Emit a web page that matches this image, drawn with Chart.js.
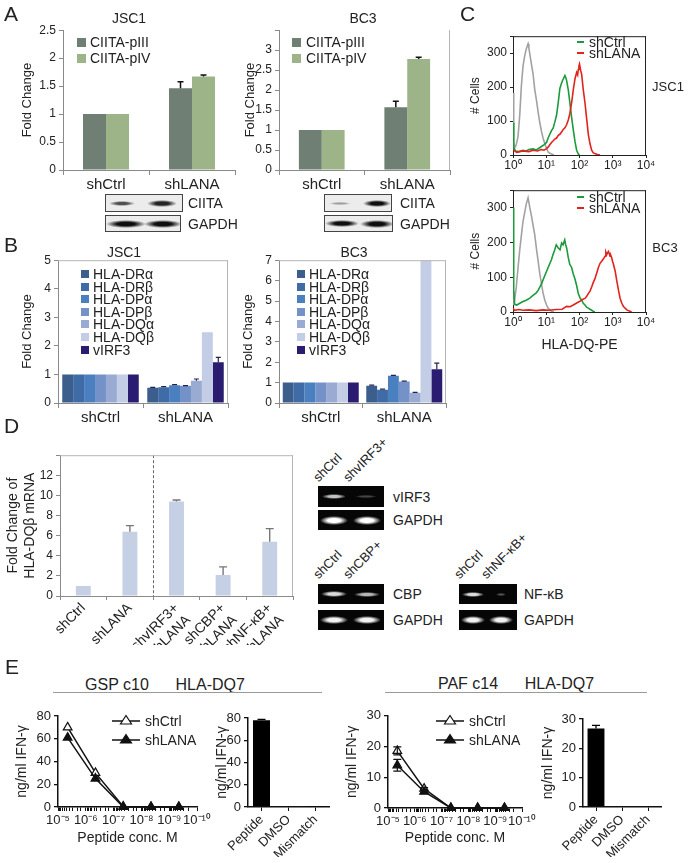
<!DOCTYPE html>
<html>
<head>
<meta charset="utf-8">
<script src="https://cdn.jsdelivr.net/npm/chart.js@4.4.1/dist/chart.umd.min.js"></script>
<style>
  body { margin: 0; background: #fff; }
  #fig { position: relative; width: 692px; height: 863px; overflow: hidden; background: #fff;
         font-family: 'Liberation Sans', Arial, Helvetica, sans-serif; color: #222; }
  #fig canvas { position: absolute; }
  .t { position: absolute; white-space: pre; line-height: 1; }
  .wb { position: absolute; background: #ececec; border: 1px solid #444; box-sizing: border-box; overflow: hidden; }
  .gel { position: absolute; background: #060606; overflow: hidden; }
  .band { position: absolute; }
  .hr { position: absolute; height: 0; border-top: 1px solid #9a9a9a; }
</style>
</head>
<body>
<div id="fig"></div>
<script>
// ---- data ----
// A: CIITA promoter fold change
var aCats = ['shCtrl', 'shLANA'];
var aSeries = ['CIITA-pIII', 'CIITA-pIV'];
var aJscPIII = [1, 1.46], aJscPIIIErr = [0, 0.12];
var aJscPIV = [1, 1.67], aJscPIVErr = [0, 0.03];
var aBc3PIII = [1, 1.57], aBc3PIIIErr = [0, 0.15];
var aBc3PIV = [1, 2.78], aBc3PIVErr = [0, 0.04];

// B: HLA class II / vIRF3 fold change
var bGenes = ['HLA-DRα', 'HLA-DRβ', 'HLA-DPα', 'HLA-DPβ', 'HLA-DQα', 'HLA-DQβ', 'vIRF3'];
var bJscCtrl = [1, 1, 1, 1, 1, 1, 1];
var bJscLana = [0.53, 0.55, 0.62, 0.6, 0.78, 2.48, 1.43];
var bJscErr = [0.02, 0.02, 0.02, 0.01, 0.06, 0, 0.17];
var bBc3Ctrl = [1, 1, 1, 1, 1, 1, 1];
var bBc3Lana = [0.85, 0.65, 1.33, 1.05, 0.5, 7, 1.65];
var bBc3Err = [0.03, 0.03, 0.02, 0.02, 0.02, 0, 0.3];

// C: flow histograms (HLA-DQ-PE vs # cells)
var cJscIsoX = [1, 1.05, 1.12, 1.25, 1.42, 1.6, 1.79, 2.0, 2.25, 2.5, 2.7, 2.84, 3.0, 3.2, 3.58, 4.0, 4.52, 5.1, 5.7, 6.4, 7.18, 8.0, 9.06, 10.2, 11.4, 12.8, 14.4, 17];
var cJscIsoY = [183, 40, 20, 30, 55, 120, 205, 262, 292, 312, 322, 328, 316, 298, 268, 240, 192, 160, 126, 95, 70, 50, 33, 20, 9, 5, 3, 0];
var cJscCtrlX = [1, 1.05, 1.2, 1.5, 2, 2.5, 3, 4, 5, 6, 7.2, 8.5, 10.2, 11.4, 12.8, 14.4, 16.2, 18, 20.4, 22.9, 25.7, 28.9, 32.4, 36.4, 38.5, 40.9, 46, 52, 58, 65, 73, 82, 92, 100];
var cJscCtrlY = [95, 20, 12, 10, 14, 12, 16, 18, 15, 20, 25, 30, 37, 50, 61, 72, 80, 96, 117, 154, 196, 212, 224, 234, 228, 220, 192, 150, 110, 75, 40, 14, 3, 0];
var cJscLanaX = [1, 1.3, 2, 3, 4, 5.5, 7, 8.5, 10, 11.4, 12.8, 14.4, 16.2, 18, 20.4, 23, 25.7, 28.9, 32.4, 36.4, 40.9, 46, 51, 58, 65, 73, 82, 88, 92, 96, 100, 108, 116, 130, 146, 164, 184, 207, 232, 260, 330, 415];
var cJscLanaY = [15, 8, 12, 10, 14, 12, 16, 14, 18, 23, 30, 37, 42, 47, 50, 58, 61, 68, 75, 80, 89, 103, 121, 154, 192, 224, 243, 236, 252, 262, 268, 250, 238, 192, 154, 107, 61, 33, 14, 6, 2, 0];
var cBc3IsoX = [1, 1.05, 1.12, 1.25, 1.42, 1.6, 1.79, 2.0, 2.25, 2.5, 2.84, 3.2, 3.58, 4.0, 4.52, 5.1, 5.7, 6.4, 7.18, 8.0, 9.06, 10.2, 11.4, 12.8, 14.4, 17];
var cBc3IsoY = [60, 20, 34, 70, 128, 180, 221, 260, 286, 310, 328, 300, 277, 250, 221, 180, 146, 110, 81, 55, 34, 20, 11, 6, 2, 0];
var cBc3CtrlX = [1, 1.05, 1.12, 1.3, 1.6, 2, 2.5, 3.2, 4, 5, 5.7, 7.2, 9, 11.4, 14.4, 16, 18, 20, 23, 26, 29, 32, 36, 38, 41, 46, 51, 58, 65, 73, 82, 92, 104, 116, 130, 146, 164, 184, 207, 232, 260, 290];
var cBc3CtrlY = [300, 60, 22, 20, 25, 30, 34, 40, 48, 55, 62, 81, 104, 128, 151, 165, 179, 193, 184, 179, 198, 193, 207, 195, 184, 156, 137, 128, 109, 95, 76, 53, 40, 34, 25, 20, 14, 11, 8, 5, 2, 0];
var cBc3LanaX = [1, 1.1, 1.5, 2, 3, 5, 8, 12, 20, 30, 41, 52, 65, 82, 100, 123, 146, 165, 184, 207, 232, 260, 290, 330, 370, 415, 464, 520, 585, 620, 660, 700, 740, 785, 830, 880, 930, 990, 1050, 1180, 1320, 1490, 1670, 1870, 2100, 2650, 3700];
var cBc3LanaY = [11, 5, 7, 5, 6, 4, 6, 5, 7, 8, 16, 15, 20, 26, 30, 36, 39, 45, 53, 60, 72, 85, 95, 112, 128, 140, 146, 152, 160, 172, 165, 170, 174, 168, 160, 162, 156, 145, 137, 118, 90, 62, 39, 25, 16, 6, 0];

// D: HLA-DQβ mRNA
var dCats = ['shCtrl', 'shLANA', ['shvIRF3+', 'shLANA'], ['shCBP+', 'shLANA'], ['shNF-κB+', 'shLANA']];
var dVals = [1, 6.4, 9.4, 2.1, 5.4];
var dErr = [0, 0.6, 0.15, 0.8, 1.3];

// E: IFN-γ release
var eConc = [4.5e-6, 4.5e-7, 4.5e-8, 4.5e-9, 4.5e-10];
var eGspCtrl = [70, 30, 0.5, 0, 0];
var eGspLana = [61, 25, 0, 0, 0];
var ePafCtrl = [18.6, 6.3, 0, 0, 0], ePafCtrlErr = [1.3, 0.3, 0, 0, 0];
var ePafLana = [13.9, 5.3, 0, 0, 0], ePafLanaErr = [1.9, 0.4, 0, 0, 0];
var eCtlCats = ['Peptide', 'DMSO', 'Mismatch'];
var eGspCtl = [78, 0, 0.3], eGspCtlErr = [0.7, 0, 0];
var ePafCtl = [26.8, 0, 0], ePafCtlErr = [1, 0, 0];

// ---- plugins ----
var errorBars = {
  id: 'errBars',
  afterDatasetsDraw: function (chart) {
    var ctx = chart.ctx, ys = chart.scales.y;
    chart.data.datasets.forEach(function (ds, di) {
      if (!ds.errUp) return;
      var meta = chart.getDatasetMeta(di);
      ctx.save();
      ctx.strokeStyle = ds.errColor || '#000';
      ctx.lineWidth = ds.errWidth || 1.2;
      meta.data.forEach(function (el, i) {
        var d = ds.data[i];
        var v = (d && typeof d === 'object') ? d.y : d;
        var up = ds.errUp[i] || 0, dn = ds.errDown ? (ds.errDown[i] || 0) : 0;
        if (!up && !dn) return;
        var hw = (ds.errCap || 6) / 2;
        var y0 = ys.getPixelForValue(v - dn), y1 = ys.getPixelForValue(v + up);
        ctx.beginPath();
        ctx.moveTo(el.x, y0); ctx.lineTo(el.x, y1);
        ctx.moveTo(el.x - hw, y1); ctx.lineTo(el.x + hw, y1);
        if (dn) { ctx.moveTo(el.x - hw, y0); ctx.lineTo(el.x + hw, y0); }
        ctx.stroke();
      });
      ctx.restore();
    });
  }
};

var plotBox = {
  id: 'plotBox',
  afterDraw: function (chart, args, opts) {
    if (!opts || !opts.color) return;
    var a = chart.chartArea, ctx = chart.ctx, s = opts.sides || 'tr';
    ctx.save();
    ctx.strokeStyle = opts.color;
    ctx.lineWidth = 1;
    ctx.beginPath();
    if (s.indexOf('t') >= 0) { ctx.moveTo(a.left, a.top + 0.5); ctx.lineTo(a.right, a.top + 0.5); }
    if (s.indexOf('r') >= 0) { ctx.moveTo(a.right - 0.5, a.top); ctx.lineTo(a.right - 0.5, a.bottom); }
    ctx.stroke();
    ctx.restore();
  }
};

var divider = {
  id: 'divider',
  afterDatasetsDraw: function (chart, args, opts) {
    if (!opts || opts.at == null) return;
    var x = Math.round(chart.scales.x.getPixelForValue(opts.at)) + 0.5, a = chart.chartArea, ctx = chart.ctx;
    ctx.save();
    ctx.strokeStyle = '#666';
    ctx.setLineDash([3, 2]);
    ctx.beginPath(); ctx.moveTo(x, a.top); ctx.lineTo(x, a.bottom); ctx.stroke();
    ctx.restore();
  }
};

Chart.defaults.font.family = "'Liberation Sans', Arial, Helvetica, sans-serif";
Chart.defaults.font.size = 12;
Chart.defaults.color = '#222';
Chart.defaults.animation = false;
Chart.defaults.plugins.legend.display = false;
Chart.defaults.plugins.tooltip.enabled = false;
Chart.register(errorBars, plotBox, divider);

var fig = document.getElementById('fig');
var GRAY = '#8a8a8a';
var SUP = { '0': '⁰', '1': '¹', '2': '²', '3': '³', '4': '⁴', '5': '⁵', '6': '⁶', '7': '⁷', '8': '⁸', '9': '⁹', '-': '⁻' };

function pow10Label(v) {
  var e = Math.log10(v), r = Math.round(e);
  if (Math.abs(e - r) > 1e-6) return '';
  return '10' + String(r).split('').map(function (c) { return SUP[c]; }).join('');
}

// canvas at box, chart area pinned to plot (page px)
function mount(box, plot, config) {
  var c = document.createElement('canvas');
  c.width = box.w; c.height = box.h;
  c.style.left = box.x + 'px'; c.style.top = box.y + 'px';
  c.style.width = box.w + 'px'; c.style.height = box.h + 'px';
  fig.appendChild(c);
  var yw = plot.l - box.x, xh = box.y + box.h - plot.b;
  var o = config.options;
  o.responsive = false;
  o.layout = { autoPadding: false, padding: { left: 0, top: plot.t - box.y, right: box.x + box.w - plot.r, bottom: 0 } };
  o.scales.x.afterFit = function (s) { s.height = xh; };
  o.scales.y.afterFit = function (s) { s.width = yw; };
  return new Chart(c, config);
}

function yTitle(text, size, cx, boxX) {
  return { display: true, text: text, color: '#222', font: { size: size }, padding: { top: cx - boxX - size * 0.6, bottom: 0 } };
}
function xTitle(text, size, cy, boxBottom) {
  return { display: true, text: text, color: '#222', font: { size: size }, padding: { top: 0, bottom: boxBottom - cy - size * 0.6 } };
}

function label(text, x, y, size, align, extra) {
  var d = document.createElement('div');
  d.className = 't';
  d.textContent = text;
  d.style.fontSize = size + 'px';
  d.style.left = x + 'px';
  d.style.top = y + 'px';
  var tx = align === 'c' ? '-50%' : align === 'r' ? '-100%' : '0';
  d.style.transform = 'translate(' + tx + ',-50%)';
  if (extra) Object.assign(d.style, extra);
  fig.appendChild(d);
  return d;
}
function slanted(text, x, y, size) {
  var d = document.createElement('div');
  d.className = 't';
  d.textContent = text;
  d.style.fontSize = size + 'px';
  d.style.left = x + 'px';
  d.style.top = (y - size) + 'px';
  d.style.transformOrigin = '0 100%';
  d.style.transform = 'rotate(-45deg)';
  fig.appendChild(d);
}
function swatch(x, y, size, color) {
  var d = document.createElement('div');
  d.style.cssText = 'position:absolute;left:' + x + 'px;top:' + (y - size / 2) + 'px;width:' + size + 'px;height:' + size + 'px;background:' + color;
  fig.appendChild(d);
}
function dash(x, y, w, color) {
  var d = document.createElement('div');
  d.style.cssText = 'position:absolute;left:' + x + 'px;top:' + (y - 1) + 'px;width:' + w + 'px;height:2px;background:' + color;
  fig.appendChild(d);
}
function blot(x, y, w, h, bands, gel) {
  var d = document.createElement('div');
  d.className = gel ? 'gel' : 'wb';
  d.style.left = x + 'px'; d.style.top = y + 'px';
  d.style.width = w + 'px'; d.style.height = h + 'px';
  bands.forEach(function (b) {
    var s = document.createElement('div');
    s.className = 'band';
    var rgb = gel ? '255,255,255' : '15,15,15';
    s.style.left = (b[0] - b[1] / 2) + 'px';
    s.style.top = ((gel ? h : h - 2) - b[2]) / 2 + 'px';
    s.style.width = b[1] + 'px';
    s.style.height = b[2] + 'px';
    s.style.background = 'radial-gradient(ellipse closest-side, rgba(' + rgb + ',' + b[3] + ') 45%, rgba(' + rgb + ',0) 100%)';
    d.appendChild(s);
  });
  fig.appendChild(d);
}

// ---- Excel-style bar axes ----
function xlsX() {
  return { type: 'category', offset: true,
    grid: { display: true, drawOnChartArea: false, drawTicks: true, tickLength: 5, color: GRAY, offset: true },
    border: { color: GRAY },
    ticks: { font: { size: 15 }, padding: 1, maxRotation: 0, autoSkip: false } };
}
function xlsY(max, step, hideTop, title) {
  return { min: 0, max: max,
    grid: { drawOnChartArea: false, tickLength: 4, color: GRAY },
    border: { color: GRAY },
    ticks: { stepSize: step, padding: 3, font: { size: 12 },
      callback: function (v) { return (hideTop && v === max) ? '' : String(v); } },
    title: title };
}

// ---- Panel A ----
var aColors = ['#6f7f73', '#9db388'];
function aData(p3, p3e, p4, p4e) {
  return { labels: aCats, datasets: [
    { label: aSeries[0], data: p3, backgroundColor: aColors[0], errUp: p3e, errColor: '#111', errCap: 6, errWidth: 1.5 },
    { label: aSeries[1], data: p4, backgroundColor: aColors[1], errUp: p4e, errColor: '#111', errCap: 6, errWidth: 1.5 }
  ] };
}
mount({ x: 0, y: 20, w: 240, h: 180 }, { l: 63, t: 27, r: 235, b: 170 }, {
  type: 'bar',
  data: aData(aJscPIII, aJscPIIIErr, aJscPIV, aJscPIVErr),
  options: { datasets: { bar: { categoryPercentage: 0.535, barPercentage: 1 } },
    scales: { x: xlsX(), y: xlsY(2.5, 0.5, false, yTitle('Fold Change', 13, 27, 0)) } }
});
mount({ x: 232, y: 20, w: 228, h: 180 }, { l: 279, t: 27, r: 450, b: 170 }, {
  type: 'bar',
  data: aData(aBc3PIII, aBc3PIIIErr, aBc3PIV, aBc3PIVErr),
  options: { datasets: { bar: { categoryPercentage: 0.535, barPercentage: 1 } },
    scales: { x: xlsX(), y: xlsY(3.5, 0.5, true, yTitle('Fold Change', 13, 250, 232)) },
    plugins: { plotBox: { color: '#b5b5b5', sides: 'r' } } }
});
label('JSC1', 129, 18, 14, 'c');
label('BC3', 363, 18, 14, 'c');
[[77, 90], [292, 306]].forEach(function (p) {
  swatch(p[0], 42, 9, aColors[0]); label(aSeries[0], p[1], 42, 14);
  swatch(p[0], 58, 9, aColors[1]); label(aSeries[1], p[1], 58, 14);
});
blot(105, 194, 78, 18, [[16, 26, 5, 0.7], [56, 30, 7, 0.9]]);
blot(105, 215, 76, 17, [[20, 40, 8, 1], [57, 38, 8, 1]]);
blot(324, 194, 68, 18, [[15, 22, 3, 0.35], [52, 28, 7, 1]]);
blot(324, 215, 69, 17, [[17, 34, 7, 1], [52, 34, 8, 1]]);
label('CIITA', 188, 203, 14); label('GAPDH', 188, 224, 14);
label('CIITA', 400, 203, 14); label('GAPDH', 400, 224, 14);

// ---- Panel B ----
var bColors = ['#3b5e8c', '#3f6ca6', '#4a7fc0', '#7492c8', '#9aabd3', '#c3cde6', '#2a1c70'];
function bData(ctrl, lana, err) {
  return { labels: aCats, datasets: bGenes.map(function (g, i) {
    return { label: g, data: [ctrl[i], lana[i]], backgroundColor: bColors[i], errUp: [0, err[i]], errColor: '#22224a', errCap: 5, errWidth: 1.2 };
  }) };
}
mount({ x: 0, y: 250, w: 236, h: 180 }, { l: 58, t: 259, r: 228, b: 403 }, {
  type: 'bar',
  data: bData(bJscCtrl, bJscLana, bJscErr),
  options: { datasets: { bar: { categoryPercentage: 0.9, barPercentage: 1 } },
    scales: { x: xlsX(), y: xlsY(5, 1, false, yTitle('Fold Change', 13, 27, 0)) },
    plugins: { plotBox: { color: '#b5b5b5', sides: 'tr' } } }
});
mount({ x: 236, y: 250, w: 216, h: 180 }, { l: 279, t: 260, r: 446, b: 403 }, {
  type: 'bar',
  data: bData(bBc3Ctrl, bBc3Lana, bBc3Err),
  options: { datasets: { bar: { categoryPercentage: 0.91, barPercentage: 1 } },
    scales: { x: xlsX(), y: xlsY(7, 1, false, yTitle('Fold Change', 13, 248, 236)) },
    plugins: { plotBox: { color: '#b5b5b5', sides: 'tr' } } }
});
label('JSC1', 124, 252, 14, 'c');
label('BC3', 354, 252, 14, 'c');
[[81, 93], [297, 309]].forEach(function (p) {
  bGenes.forEach(function (g, i) {
    var y = 274 + i * 12.6;
    swatch(p[0], y, 8, bColors[i]);
    label(g, p[1], y, 14);
  });
});

// ---- Panel C ----
function pts(xs, ys) { return xs.map(function (x, i) { return { x: x, y: ys[i] }; }); }
function flowDs(xs, ys, color, order) {
  return { data: pts(xs, ys), borderColor: color, borderWidth: 1.6, pointRadius: 0, tension: 0, order: order };
}
function flowScales(boxX, xt) {
  return {
    x: { type: 'logarithmic', min: 1, max: 10000,
      afterBuildTicks: function (s) { s.ticks = s.ticks.filter(function (t) { return pow10Label(t.value) !== ''; }); },
      grid: { drawOnChartArea: false, tickLength: 3, color: '#222' }, border: { color: '#222' },
      ticks: { autoSkip: false, maxRotation: 0, padding: 0, font: { size: 12 }, callback: pow10Label },
      title: xt || { display: false } },
    y: { min: 0, max: 350,
      grid: { drawOnChartArea: false, tickLength: 3, color: '#222' }, border: { color: '#222' },
      ticks: { stepSize: 100, padding: 3, font: { size: 12 }, callback: function (v) { return v % 100 === 0 ? String(v) : ''; } },
      title: yTitle('# Cells', 12, 476, boxX) }
  };
}
mount({ x: 466, y: 26, w: 194, h: 146 }, { l: 513, t: 32, r: 646, b: 155 }, {
  type: 'line',
  data: { datasets: [flowDs(cJscIsoX, cJscIsoY, '#a2a2a2', 3), flowDs(cJscCtrlX, cJscCtrlY, '#1c9a3c', 2), flowDs(cJscLanaX, cJscLanaY, '#e2231c', 1)] },
  options: { scales: flowScales(466), plugins: { plotBox: { color: '#222', sides: 'tr' } } }
});
mount({ x: 466, y: 180, w: 194, h: 176 }, { l: 513, t: 187, r: 646, b: 312 }, {
  type: 'line',
  data: { datasets: [flowDs(cBc3IsoX, cBc3IsoY, '#a2a2a2', 3), flowDs(cBc3CtrlX, cBc3CtrlY, '#1c9a3c', 2), flowDs(cBc3LanaX, cBc3LanaY, '#e2231c', 1)] },
  options: { scales: flowScales(466, xTitle('HLA-DQ-PE', 14, 345, 356)), plugins: { plotBox: { color: '#222', sides: 'tr' } } }
});
[[42, 53], [197, 208]].forEach(function (r) {
  dash(577, r[0], 7, '#1c9a3c'); label('shCtrl', 589, r[0], 14);
  dash(577, r[1], 7, '#e2231c'); label('shLANA', 589, r[1], 14);
});
label('JSC1', 668, 86, 13, 'c');
label('BC3', 665, 247, 13, 'c');

// ---- Panel D ----
mount({ x: 0, y: 445, w: 300, h: 200 }, { l: 60, t: 454, r: 293, b: 596 }, {
  type: 'bar',
  data: { labels: dCats, datasets: [{ data: dVals, backgroundColor: '#c6d0e4', errUp: dErr, errColor: '#777', errCap: 8, errWidth: 1.4 }] },
  options: { datasets: { bar: { categoryPercentage: 1, barPercentage: 0.32 } },
    scales: {
      x: { type: 'category', offset: true,
        grid: { drawOnChartArea: false, tickLength: 4, color: GRAY, offset: true }, border: { color: GRAY },
        ticks: { font: { size: 14 }, minRotation: 45, maxRotation: 45, autoSkip: false, padding: 0 } },
      y: xlsY(14, 2, true, yTitle(['Fold Change of', 'HLA-DQβ mRNA'], 14, 13, 0)) },
    plugins: { plotBox: { color: '#b5b5b5', sides: 'tr' }, divider: { at: 1.5 } } }
});
blot(318, 486, 66, 21, [[16, 24, 5, 0.75], [48, 22, 3, 0.25]], true);
blot(318, 510, 66, 20, [[16, 28, 9, 1], [49, 28, 9, 1]], true);
blot(318, 584, 66, 20, [[16, 26, 6, 0.85], [49, 26, 5, 0.7]], true);
blot(318, 610, 66, 20, [[16, 28, 8, 0.95], [49, 28, 8, 0.95]], true);
blot(459, 584, 58, 20, [[14, 22, 5, 0.85], [42, 10, 3, 0.3]], true);
blot(459, 610, 58, 20, [[14, 24, 8, 0.95], [42, 24, 8, 0.95]], true);
slanted('shCtrl', 320, 484, 13); slanted('shvIRF3+', 350, 484, 13);
slanted('shCtrl', 320, 581, 13); slanted('shCBP+', 350, 581, 13);
slanted('shCtrl', 461, 581, 13); slanted('shNF-κB+', 488, 581, 13);
label('vIRF3', 393, 497, 14); label('GAPDH', 393, 520, 14);
label('CBP', 393, 594, 14); label('GAPDH', 393, 620, 14);
label('NF-κB', 524, 594, 14); label('GAPDH', 524, 620, 14);

// ---- Panel E ----
function eLineDs(name, ys, errs, filled, order) {
  return { label: name, data: pts(eConc, ys), borderColor: '#111', borderWidth: 1.5, tension: 0,
    pointStyle: 'triangle', pointRadius: 5, pointBackgroundColor: filled ? '#111' : '#fff',
    pointBorderColor: '#111', pointBorderWidth: 1.2, clip: false, order: order,
    errUp: errs, errDown: errs, errColor: '#111', errCap: 8, errWidth: 1.2 };
}
function eY(max, step, cx, boxX) {
  return { min: 0, max: max,
    grid: { drawOnChartArea: false, tickLength: 4, color: '#111', lineWidth: 1.3 },
    border: { color: '#111', width: 1.5 },
    ticks: { stepSize: step, padding: 3, font: { size: 13 } },
    title: yTitle('ng/ml IFN-γ', 14, cx, boxX) };
}
function eLogX(boxBottom) {
  return { type: 'logarithmic', reverse: true, min: 1e-10, max: 1e-5,
    grid: { drawOnChartArea: false, tickLength: 4, color: '#111' },
    border: { color: '#111', width: 1.5 },
    ticks: { autoSkip: false, maxRotation: 0, padding: 2, font: { size: 13 }, callback: pow10Label },
    title: xTitle('Peptide conc. M', 14, 838, boxBottom) };
}
function eBarX() {
  return { type: 'category', offset: true,
    grid: { drawOnChartArea: false, tickLength: 4, color: '#111', offset: false },
    border: { color: '#111', width: 1.5 },
    ticks: { font: { size: 13 }, minRotation: 45, maxRotation: 45, autoSkip: false, padding: 1 } };
}
mount({ x: 10, y: 705, w: 205, h: 142 }, { l: 58, t: 716, r: 197, b: 807 }, {
  type: 'line',
  data: { datasets: [eLineDs('shCtrl', eGspCtrl, null, false, 2), eLineDs('shLANA', eGspLana, null, true, 1)] },
  options: { scales: { x: eLogX(847), y: eY(80, 20, 22, 10) } }
});
mount({ x: 212, y: 705, w: 125, h: 152 }, { l: 248, t: 718, r: 329, b: 807 }, {
  type: 'bar',
  data: { labels: eCtlCats, datasets: [{ data: eGspCtl, backgroundColor: '#000', errUp: eGspCtlErr, errColor: '#000', errCap: 8, errWidth: 1.3 }] },
  options: { datasets: { bar: { categoryPercentage: 1, barPercentage: 0.63 } },
    scales: { x: eBarX(), y: eY(80, 20, 222, 212) } }
});
mount({ x: 342, y: 705, w: 198, h: 142 }, { l: 388, t: 715, r: 522, b: 808 }, {
  type: 'line',
  data: { datasets: [eLineDs('shCtrl', ePafCtrl, ePafCtrlErr, false, 2), eLineDs('shLANA', ePafLana, ePafLanaErr, true, 1)] },
  options: { scales: { x: eLogX(847), y: eY(30, 10, 352, 342) } }
});
mount({ x: 538, y: 705, w: 130, h: 152 }, { l: 583, t: 719, r: 661, b: 807 }, {
  type: 'bar',
  data: { labels: eCtlCats, datasets: [{ data: ePafCtl, backgroundColor: '#000', errUp: ePafCtlErr, errColor: '#000', errCap: 8, errWidth: 1.3 }] },
  options: { datasets: { bar: { categoryPercentage: 1, barPercentage: 0.65 } },
    scales: { x: eBarX(), y: eY(30, 10, 548, 538) } }
});
label('GSP c10      HLA-DQ7', 165, 685, 16, 'c');
label('PAF c14      HLA-DQ7', 516, 684, 16, 'c');
[[53, 269], [385, 262]].forEach(function (l) {
  var d = document.createElement('div');
  d.className = 'hr';
  d.style.left = l[0] + 'px'; d.style.top = '692px'; d.style.width = l[1] + 'px';
  fig.appendChild(d);
});
function triKey(x, y, filled, text) {
  var d = document.createElement('div');
  d.style.cssText = 'position:absolute;left:' + x + 'px;top:' + (y - 7) + 'px;width:30px;height:14px';
  d.innerHTML = '<svg width="30" height="14"><line x1="0" y1="8" x2="28" y2="8" stroke="#111" stroke-width="1.5"/>' +
    '<polygon points="14,2.5 19.5,11 8.5,11" fill="' + (filled ? '#111' : '#fff') + '" stroke="#111" stroke-width="1.2"/></svg>';
  fig.appendChild(d);
  label(text, x + 33, y + 1, 14);
}
triKey(112, 720, false, 'shCtrl'); triKey(112, 739, true, 'shLANA');
triKey(436, 720, false, 'shCtrl'); triKey(436, 739, true, 'shLANA');

// ---- panel letters ----
[['A', 4, 13], ['B', 4, 244], ['C', 460, 13], ['D', 4, 425], ['E', 5, 666]].forEach(function (p) {
  label(p[0], p[1], p[2], 21);
});
</script>
</body>
</html>
